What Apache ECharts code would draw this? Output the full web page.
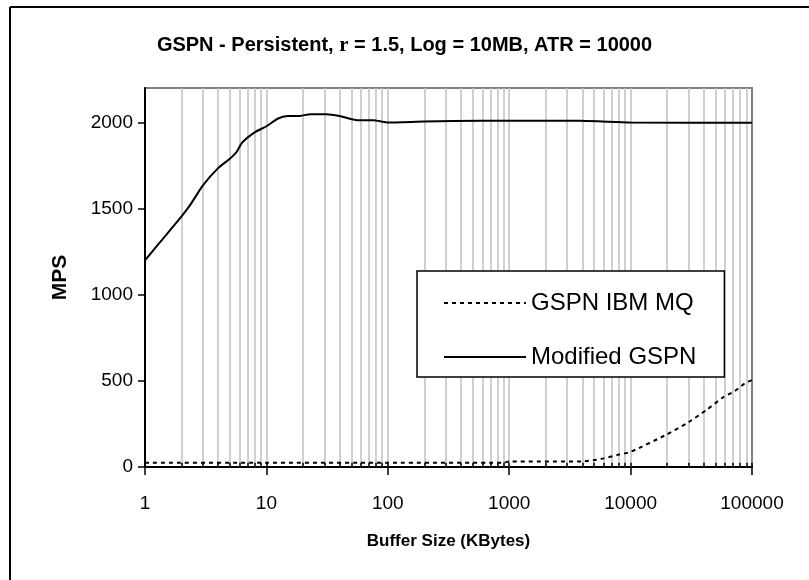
<!DOCTYPE html>
<html>
<head>
<meta charset="utf-8">
<script src="https://cdn.jsdelivr.net/npm/echarts@6/dist/echarts.min.js"></script>
<style>html,body{margin:0;padding:0;background:#fff;}#c{width:809px;height:580px;}</style>
</head>
<body>
<div id="c"></div>
<script>
// Data
const modifiedX = [1, 1.33, 2, 2.35, 3, 4, 5, 5.7, 6.3, 8, 10, 12.5, 15, 19, 23, 31, 40, 56, 76, 98, 200, 600, 3800, 10000, 100000];
const modifiedY = [1200, 1305, 1455, 1520, 1635, 1735, 1790, 1830, 1882, 1942, 1978, 2023, 2037, 2038, 2048, 2048, 2038, 2013, 2013, 2000, 2005, 2010, 2010, 2000, 1998];
const mqX = [1, 10, 100, 900, 1000, 4000, 5000, 6000, 8000, 10000, 20000, 30000, 42000, 58000, 72000, 87000, 100000];
const mqY = [25, 25, 25, 25, 32, 32, 40, 50, 72, 88, 190, 260, 330, 405, 440, 485, 505];
const xDecades = [1, 10, 100, 1000, 10000, 100000];
const yTickValues = [0, 500, 1000, 1500, 2000];
const seriesNames = ['GSPN IBM MQ', 'Modified GSPN'];

const FONT = "'Liberation Sans', Arial, sans-serif";

// log-axis grid positions: every integer multiple within each decade
const gridValues = [];
for (let d = 0; d < xDecades.length - 1; d++) {
  for (let m = 1; m <= 9; m++) {
    const v = xDecades[d] * m;
    if (v > 1) gridValues.push(v);
  }
}
const tickValues = gridValues.concat([xDecades[xDecades.length - 1]]);

const chart = echarts.init(document.getElementById('c'), null, {renderer: 'canvas'});
chart.setOption({
  animation: false,
  backgroundColor: '#fff',
  title: {
    left: 'center',
    top: 30,
    text: '{b|GSPN - Persistent, }{r|r}{b| = 1.5, Log = 10MB, ATR = 10000}',
    textStyle: {
      rich: {
        b: {fontFamily: FONT, fontWeight: 'bold', fontSize: 20, color: '#000'},
        r: {fontFamily: "'Liberation Serif', 'Times New Roman', serif", fontSize: 21, color: '#000'}
      }
    }
  },
  graphic: [
    {type: 'line', shape: {x1: 10, y1: 7, x2: 10, y2: 580}, style: {stroke: '#000', lineWidth: 2}},
    {type: 'line', shape: {x1: 10, y1: 7, x2: 809, y2: 7}, style: {stroke: '#000', lineWidth: 2}}
  ],
  grid: {left: 145, right: 57, top: 88, bottom: 113, show: true, borderColor: '#808080', borderWidth: 2, backgroundColor: 'transparent'},
  legend: {
    orient: 'vertical',
    left: 417,
    top: 271,
    z: 20,
    padding: [20, 28, 8, 26],
    itemWidth: 82,
    itemHeight: 14,
    itemGap: 30,
    backgroundColor: '#fff',
    borderColor: '#000',
    borderWidth: 1.5,
    data: seriesNames,
    itemStyle: {opacity: 0},
    textStyle: {fontFamily: FONT, fontSize: 24, color: '#000', lineHeight: 24}
  },
  xAxis: {
    type: 'log',
    logBase: 10,
    min: 1,
    max: 100000,
    name: 'Buffer Size (KBytes)',
    nameLocation: 'middle',
    nameGap: 66,
    nameTextStyle: {fontFamily: FONT, fontWeight: 'bold', fontSize: 17, color: '#000'},
    axisLine: {lineStyle: {color: '#000', width: 2}},
    axisTick: {show: true, inside: false, length: 8, lineStyle: {color: '#000', width: 1.5}},
    axisLabel: {fontFamily: FONT, fontSize: 19, color: '#000', margin: 27, formatter: v => String(Math.round(v))},
    splitLine: {show: false}
  },
  yAxis: {
    type: 'value',
    min: 0,
    max: 2200,
    interval: 500,
    name: 'MPS',
    nameLocation: 'middle',
    nameGap: 74,
    nameRotate: 90,
    nameTextStyle: {fontFamily: FONT, fontWeight: 'bold', fontSize: 21, color: '#000'},
    axisLine: {show: true, lineStyle: {color: '#000', width: 2}},
    axisTick: {show: true, length: 7, lineStyle: {color: '#000', width: 1.5}, customValues: yTickValues},
    axisLabel: {fontFamily: FONT, fontSize: 19, color: '#000', margin: 12, customValues: yTickValues, formatter: v => String(v)},
    splitLine: {show: false}
  },
  series: [
    {
      name: 'gridlines',
      type: 'line',
      data: [],
      z: 1,
      silent: true,
      markLine: {
        silent: true,
        z: 1,
        symbol: ['none', 'none'],
        label: {show: false},
        lineStyle: {color: '#c0c0c0', width: 1.5, type: 'solid'},
        emphasis: {disabled: true},
        data: gridValues.map(v => ({xAxis: v}))
      }
    },
    {
      name: seriesNames[0],
      type: 'line',
      z: 3,
      symbol: 'none',
      smooth: 0.2,
      data: mqX.map((x, i) => [x, mqY[i]]),
      lineStyle: {color: '#000', width: 2, type: [4, 4]},
      itemStyle: {color: '#000'}
    },
    {
      name: seriesNames[1],
      type: 'line',
      z: 3,
      symbol: 'none',
      smooth: 0.2,
      data: modifiedX.map((x, i) => [x, modifiedY[i]]),
      lineStyle: {color: '#000', width: 2, type: 'solid'},
      itemStyle: {color: '#000'}
    },
    {
      name: 'innerTicks',
      type: 'line',
      data: [],
      z: 4,
      silent: true,
      markLine: {
        silent: true,
        z: 4,
        symbol: ['none', 'none'],
        label: {show: false},
        lineStyle: {color: '#000', width: 1.5, type: 'solid'},
        emphasis: {disabled: true},
        data: tickValues.map(v => [{coord: [v, 0]}, {coord: [v, 24]}])
      }
    }
  ]
});
</script>
</body>
</html>
